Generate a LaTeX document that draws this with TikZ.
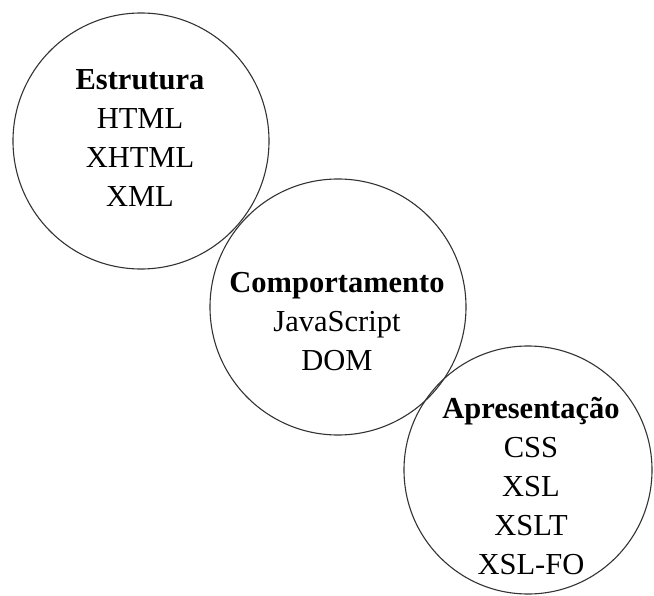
\documentclass[tikz,border=0pt]{standalone}
\usepackage{fontspec}
\setmainfont{Liberation Serif}
\usepackage{tikz}

\begin{document}
\begin{tikzpicture}[x=1pt, y=-1pt]
  \tikzstyle{ring} = [circle, draw=black!80, line width=1.1pt, inner sep=0pt]
  \tikzstyle{words} = [align=center, inner sep=0pt, font=\fontsize{30.5}{39}\selectfont]
  \useasboundingbox (0,0) rectangle (654,596);
  % Define circles
  \node[ring, minimum size=256pt] (estrutura) at (141,141) {};
  \node[ring, minimum size=256pt] (comportamento) at (338,307) {};
  \node[ring, minimum size=248pt] (apresentacao) at (528,470) {};
  % Texts inside
  \node[words] (estruturaTxt) at (140,138) {\textbf{Estrutura}\\HTML\\XHTML\\XML};
  \node[words] (comportamentoTxt) at (337,322) {\textbf{Comportamento}\\JavaScript\\DOM};
  \node[words] (apresentacaoTxt) at (531,486) {\textbf{Apresentação}\\CSS\\XSL\\XSLT\\XSL-FO};
\end{tikzpicture}
\end{document}
